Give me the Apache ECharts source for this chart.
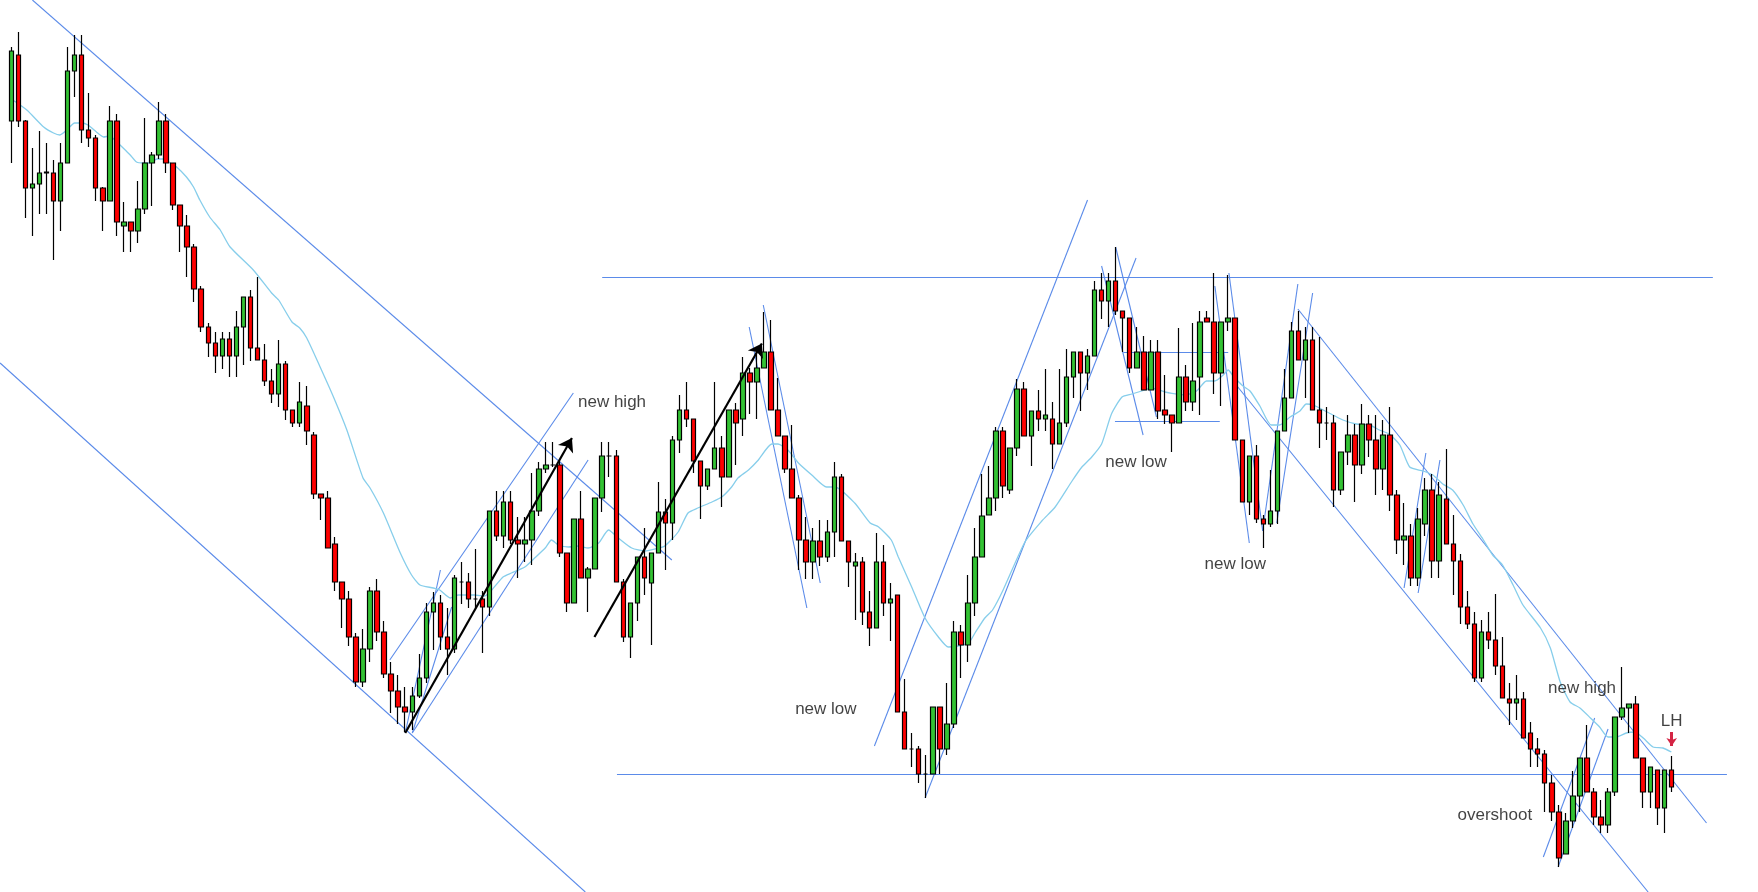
<!DOCTYPE html>
<html>
<head>
<meta charset="utf-8">
<script src="https://cdn.jsdelivr.net/npm/echarts@6/dist/echarts.min.js"></script>
<style>
html,body{margin:0;padding:0;background:#fff;}
#chart{width:1758px;height:892px;}
</style>
</head>
<body>
<div id="chart"></div>
<script>
// ---- candle data (price units) ----
const open = [1879,1945,1879,1812,1816,1827,1827,1799,1837,1929,
1945,1870,1862,1812,1799,1879,1774,1778,1769,1791,
1837,1845,1879,1837,1795,1774,1753,1711,1673,1657,
1644,1661,1644,1673,1703,1652,1640,1619,1606,1636,
1590,1577,1594,1565,1506,1502,1456,1418,1401,1363,
1318,1351,1409,1368,1326,1309,1293,1288,1304,1322,
1388,1397,1363,1351,1418,1418,1401,1401,1393,1489,
1464,1498,1460,1456,1460,1489,1531,1535,1535,1447,
1397,1481,1422,1431,1502,1544,1544,1418,1363,1397,
1443,1417,1447,1488,1477,1560,1590,1581,1539,1514,
1531,1552,1523,1590,1581,1627,1618,1632,1648,1590,
1564,1531,1502,1460,1438,1459,1443,1468,1523,1459,
1434,1438,1388,1372,1438,1397,1405,1288,1251,1251,
1226,1226,1293,1251,1276,1368,1355,1397,1443,1485,
1502,1569,1510,1552,1611,1564,1589,1581,1581,1556,
1577,1623,1648,1627,1644,1710,1699,1719,1689,1682,
1632,1648,1610,1648,1590,1585,1577,1623,1598,1623,
1682,1678,1627,1678,1682,1560,1498,1544,1481,1476,
1489,1569,1602,1669,1640,1660,1590,1577,1577,1510,
1548,1565,1535,1576,1560,1531,1565,1505,1460,1464,
1422,1476,1510,1439,1501,1456,1439,1393,1376,1322,
1368,1360,1334,1301,1297,1301,1267,1251,1246,1217,
1188,1146,1179,1204,1242,1208,1183,1175,1208,1283,
1292,1296,1242,1208,1230,1192,1230];
const close = [1949,1879,1812,1816,1827,1828,1799,1837,1929,1945,
1870,1862,1812,1799,1879,1778,1778,1769,1791,1837,
1845,1879,1837,1795,1774,1753,1711,1673,1657,1644,
1661,1644,1673,1703,1652,1640,1619,1606,1636,1590,
1577,1598,1569,1506,1502,1452,1418,1401,1363,1318,
1351,1409,1368,1326,1309,1293,1288,1304,1322,1388,
1397,1363,1351,1422,1418,1401,1401,1393,1489,1464,
1498,1460,1456,1460,1489,1531,1535,1535,1447,1397,
1481,1422,1431,1502,1544,1544,1418,1363,1397,1443,
1422,1447,1488,1477,1560,1590,1581,1539,1514,1531,
1552,1523,1590,1577,1627,1618,1632,1648,1590,1564,
1531,1502,1460,1438,1459,1443,1468,1523,1459,1438,
1438,1388,1372,1438,1397,1401,1288,1251,1251,1226,
1226,1293,1251,1276,1368,1355,1397,1443,1484,1502,
1569,1514,1552,1611,1564,1589,1581,1585,1556,1577,
1623,1648,1627,1644,1710,1699,1719,1689,1682,1632,
1648,1610,1648,1589,1585,1577,1623,1598,1619,1678,
1678,1627,1678,1682,1560,1498,1544,1481,1476,1489,
1569,1602,1669,1640,1660,1590,1577,1577,1510,1548,
1565,1535,1576,1560,1531,1565,1505,1460,1464,1422,
1481,1510,1439,1505,1456,1439,1393,1376,1322,1368,
1360,1334,1302,1297,1301,1262,1251,1246,1217,1188,
1142,1179,1204,1242,1208,1183,1175,1208,1283,1292,
1296,1242,1208,1233,1192,1230,1213];
const low = [1837,1873,1782,1764,1786,1786,1740,1769,1837,1903,
1857,1853,1799,1769,1799,1764,1748,1748,1757,1786,
1794,1841,1827,1790,1748,1723,1698,1668,1643,1627,
1631,1623,1623,1635,1639,1640,1614,1597,1593,1580,
1573,1573,1555,1501,1480,1452,1409,1372,1354,1313,
1313,1338,1359,1322,1287,1276,1268,1270,1302,1317,
1350,1350,1325,1347,1396,1392,1392,1347,1384,1459,
1452,1456,1422,1438,1435,1484,1527,1533,1443,1388,
1397,1422,1388,1431,1488,1523,1418,1358,1342,1379,
1405,1355,1447,1430,1460,1547,1573,1527,1481,1510,
1531,1493,1523,1535,1564,1586,1581,1632,1590,1564,
1527,1502,1430,1421,1421,1434,1438,1443,1459,1413,
1380,1375,1354,1372,1384,1359,1288,1251,1233,1217,
1202,1226,1226,1245,1272,1322,1338,1384,1443,1485,
1489,1502,1506,1544,1564,1534,1569,1569,1531,1556,
1573,1602,1589,1610,1644,1681,1673,1685,1648,1627,
1632,1610,1610,1581,1576,1548,1577,1589,1589,1585,
1678,1606,1594,1669,1560,1498,1485,1477,1452,1473,
1476,1569,1602,1640,1602,1590,1552,1560,1493,1505,
1535,1498,1526,1543,1505,1510,1489,1446,1435,1414,
1414,1464,1422,1422,1456,1405,1376,1371,1318,1318,
1351,1325,1302,1275,1280,1262,1233,1233,1188,1179,
1133,1146,1172,1188,1208,1175,1167,1167,1204,1280,
1267,1242,1192,1192,1175,1167,1208];
const high = [1953,1968,1880,1852,1869,1857,1840,1857,1953,1965,
1965,1907,1865,1813,1894,1886,1798,1778,1819,1882,
1848,1898,1886,1837,1795,1785,1756,1714,1677,1668,
1668,1668,1689,1703,1710,1723,1656,1631,1660,1639,
1590,1618,1614,1568,1506,1509,1463,1418,1409,1367,
1371,1413,1421,1379,1338,1325,1313,1313,1346,1397,
1408,1405,1392,1425,1438,1427,1451,1409,1489,1509,
1509,1509,1483,1483,1527,1538,1558,1558,1539,1447,
1481,1509,1433,1502,1558,1558,1550,1421,1397,1443,
1472,1447,1518,1501,1564,1605,1618,1581,1539,1531,
1618,1564,1590,1597,1643,1632,1652,1688,1680,1622,
1564,1575,1505,1483,1472,1480,1480,1538,1526,1459,
1447,1443,1409,1467,1455,1417,1405,1321,1267,1254,
1245,1293,1293,1317,1379,1375,1425,1472,1526,1534,
1573,1573,1552,1621,1618,1589,1610,1631,1598,1631,
1651,1648,1648,1651,1719,1727,1727,1753,1689,1682,
1673,1664,1660,1660,1625,1585,1672,1635,1677,1689,
1689,1727,1678,1725,1682,1560,1544,1555,1485,1530,
1569,1631,1678,1689,1673,1673,1663,1593,1585,1548,
1585,1576,1596,1585,1585,1580,1593,1510,1497,1476,
1492,1522,1526,1518,1551,1485,1446,1409,1388,1380,
1388,1406,1363,1317,1325,1308,1278,1262,1250,1225,
1195,1187,1229,1242,1275,1212,1200,1212,1283,1333,
1296,1304,1242,1233,1230,1230,1244];

// moving average: [candle position, price]
const movingAverage = [[0,1901],[2.2,1890],[4.6,1873],[6,1867],[6.9,1865],[7.9,1870],[9,1877],[10,1877],[10.9,1875],[12.1,1868],[13.1,1863],[14,1864],[15,1858],[15.9,1852],[16.9,1845],[17.8,1838],[18.8,1837],[19.7,1837],[20.7,1841],[21.6,1841],[22.6,1837],[23.5,1833],[24.9,1823],[25.9,1813],[26.8,1800],[28.2,1783],[29.7,1770],[31.1,1753],[34.4,1730],[37,1707],[38,1700],[39.9,1678],[41,1672],[42,1662],[43.9,1633],[45.8,1603],[47.7,1570],[50,1522],[51,1512],[52.9,1487],[55.3,1447],[56.9,1425],[58.1,1415],[60,1412],[60.9,1410],[62.4,1402],[63.5,1405],[65.9,1405],[67.3,1404],[68.3,1410],[69.9,1423],[71.1,1427],[73,1433],[74.4,1442],[75.9,1452],[76.8,1460],[77.8,1455],[79.2,1453],[80.6,1454],[82,1452],[83.5,1457],[84.9,1470],[86.3,1462],[88.2,1452],[90.1,1449],[92,1452],[92.9,1454],[94.8,1468],[96.2,1487],[97.6,1492],[99.6,1498],[101,1503],[102.4,1513],[103.3,1522],[104.8,1530],[106.2,1540],[108.1,1556],[109,1556],[110.4,1550],[111.9,1537],[113.8,1525],[115.9,1513],[117.1,1513],[119.9,1497],[122.1,1477],[123.3,1473],[125.1,1460],[126.1,1443],[128,1413],[129.9,1382],[131.8,1363],[133.2,1353],[134.6,1354],[136.1,1357],[137,1367],[138.4,1382],[139.5,1390],[141,1410],[144.1,1458],[146.5,1479],[148.4,1493],[150.8,1519],[152.2,1533],[153.6,1543],[155,1556],[156.4,1586],[157.9,1603],[159.3,1606],[160.7,1609],[162.1,1612],[164,1608],[164.7,1607],[167,1605],[168.5,1609],[169.9,1619],[171.1,1619],[172.3,1625],[173,1630],[173.7,1624],[175.1,1614],[176.1,1609],[177.5,1594],[179.1,1575],[180.3,1575],[181.8,1583],[183.2,1589],[184.1,1596],[185.1,1595],[186.5,1590],[187.9,1585],[189.3,1580],[191.2,1576],[193.1,1575],[194.5,1570],[195.9,1566],[197.4,1555],[198.8,1533],[200.7,1529],[202.1,1525],[203.5,1516],[204.9,1510],[206.4,1495],[207.8,1476],[209.2,1461],[210.6,1445],[212,1435],[213.5,1415],[214.9,1395],[217.4,1372],[218.8,1352],[220.2,1318],[221.6,1298],[223,1292],[224.5,1282],[225.8,1273],[227,1263],[228.2,1263],[229.6,1267],[230.8,1268],[232,1262],[233.4,1253],[234.8,1252],[236,1248]];

// trend lines drawn on the chart: [[candle pos, price],[candle pos, price]]
const trendLines = [
  [[3.0,2000],[93.9,1440]],
  [[-1.6,1637],[81.6,1108]],
  [[84.0,1723],[241.9,1723]],
  [[86.1,1226],[243.9,1226]],
  [[53.8,1340],[79.9,1607]],
  [[57.0,1267],[82.0,1540]],
  [[56.0,1267],[61.0,1430]],
  [[57.0,1267],[62.6,1393]],
  [[104.9,1673],[113.1,1392]],
  [[106.9,1695],[115.0,1417]],
  [[122.7,1254],[153.0,1800]],
  [[129.9,1202],[159.9,1742]],
  [[155.0,1734],[160.9,1565]],
  [[157.0,1753],[162.8,1583]],
  [[158.1,1648],[173.0,1648]],
  [[156.9,1578.5],[171.8,1578.5]],
  [[171.1,1714],[176.0,1457]],
  [[173.1,1727],[177.9,1469]],
  [[177.9,1469],[182.9,1716]],
  [[179.9,1477],[185.0,1707]],
  [[182.9,1691],[241.0,1177]],
  [[173.9,1617],[232.7,1108]],
  [[198.0,1412],[201.1,1547]],
  [[200.0,1407],[203.1,1540]],
  [[217.8,1143],[225.1,1282]],
  [[219.9,1133],[227.0,1271]]
];
const arrowLines = [
  [[56.0,1267],[79.7,1562]],
  [[82.9,1363],[106.7,1656.5]]
];
const markArrow = [[236.05,1268],[236.05,1254]];
const labels = [
  {name:'new high', value:[85.4,1598]},
  {name:'new low', value:[115.8,1291]},
  {name:'new low', value:[159.9,1538]},
  {name:'new low', value:[174.0,1436]},
  {name:'new high', value:[223.3,1312]},
  {name:'LH', value:[236.05,1279]},
  {name:'overshoot', value:[210.9,1185]}
];

const N = open.length;
const categories = open.map((_, i) => String(i + 1));
const candleData = open.map((o, i) => [o, close[i], low[i], high[i]]);

const chart = echarts.init(document.getElementById('chart'), null, {renderer:'canvas'});
chart.setOption({
  animation: false,
  backgroundColor: '#ffffff',
  grid: {left: 7.81, right: 83.13, top: 0, bottom: 0},
  xAxis: [
    {type:'category', data: categories, show:false, boundaryGap:true},
    {type:'value', min:-0.5, max:N-0.5, show:false}
  ],
  yAxis: [{type:'value', min:1108, max:2000, show:false}],
  series: [
    {
      type:'lines', coordinateSystem:'cartesian2d', xAxisIndex:1, yAxisIndex:0,
      clip:false, silent:true, z:1,
      lineStyle:{color:'#5b8be9', width:1.1, opacity:1},
      data: trendLines.map(c => ({coords:c}))
    },
    {
      type:'line', xAxisIndex:1, yAxisIndex:0, data: movingAverage,
      showSymbol:false, smooth:0.2, z:2,
      lineStyle:{color:'#87ceeb', width:1.3}
    },
    {
      type:'candlestick', xAxisIndex:0, yAxisIndex:0, data: candleData,
      barWidth: 5, z:3,
      itemStyle:{color:'#33c233', color0:'#ff0000', borderColor:'#000', borderColor0:'#000', borderColorDoji:'#000', borderWidth:1.2}
    },
    {
      type:'lines', coordinateSystem:'cartesian2d', xAxisIndex:1, yAxisIndex:0,
      clip:false, silent:true, z:4,
      symbol:['none','arrow'], symbolSize:[10,13],
      lineStyle:{color:'#000', width:2.2, opacity:1},
      data: arrowLines.map(c => ({coords:c}))
    },
    {
      type:'lines', coordinateSystem:'cartesian2d', xAxisIndex:1, yAxisIndex:0,
      clip:false, silent:true, z:4,
      symbol:['none','arrow'], symbolSize:[9,8],
      lineStyle:{color:'#d42444', width:3, opacity:1},
      data: [{coords: markArrow}]
    },
    {
      type:'scatter', xAxisIndex:1, yAxisIndex:0, symbolSize:0, z:5, silent:true,
      data: labels,
      label:{show:true, position:'inside', formatter:'{b}', color:'#111111', fontSize:17, fontFamily:'Liberation Sans, Arial, sans-serif'}
    }
  ]
});
</script>
</body>
</html>
